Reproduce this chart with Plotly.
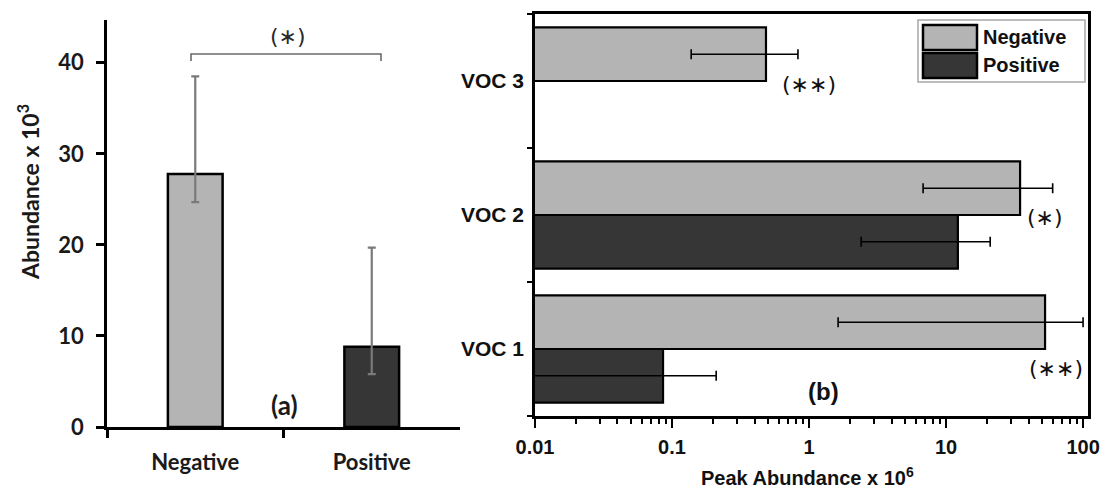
import plotly.graph_objects as go

# ---------------- data ----------------
groups_a = ["Negative", "Positive"]
abund_a = [27.8, 8.8]
abund_a_hi = [38.5, 19.7]
abund_a_lo = [24.7, 5.8]
y_ticks_a = [0, 10, 20, 30, 40]

vocs = ["VOC 1", "VOC 2", "VOC 3"]
neg_vals = [52.8, 34.7, 0.485]
neg_hi = [100.0, 60.0, 0.83]
neg_lo = [1.63, 6.8, 0.138]
pos_vals = [0.086, 12.2, None]
pos_hi = [0.21, 21.0, None]
pos_lo = [0.004, 2.4, None]

series_names = ["Negative", "Positive"]
sig_a = "(∗)"
sig_b = ["(∗∗)", "(∗)", "(∗∗)"]  # VOC1, VOC2, VOC3
panel_labels = ["(a)", "(b)"]

LIGHT = "#b4b4b4"
DARK = "#363636"
W, H = 1100, 490


def px(x):
    return x / W


def py(y):
    return 1 - y / H


def diff(a, b):
    return [None if (u is None or v is None) else u - v for u, v in zip(a, b)]


fig = go.Figure()

# ---------------- panel (a) ----------------
fig.add_trace(go.Bar(
    x=groups_a, y=abund_a, width=0.31,
    marker=dict(color=[LIGHT, DARK], line=dict(color="black", width=2.5)),
    error_y=dict(type="data", symmetric=False,
                 array=diff(abund_a_hi, abund_a),
                 arrayminus=diff(abund_a, abund_a_lo),
                 color="#7a7a7a", thickness=2.2, width=4),
    xaxis="x", yaxis="y", showlegend=False,
))

# ---------------- panel (b) ----------------
fig.add_trace(go.Bar(
    y=vocs, x=neg_vals, orientation="h", name=series_names[0],
    offset=0, width=0.4,
    marker=dict(color=LIGHT, line=dict(color="black", width=2.2)),
    error_x=dict(type="data", symmetric=False,
                 array=diff(neg_hi, neg_vals), arrayminus=diff(neg_vals, neg_lo),
                 color="black", thickness=1.6, width=5),
    xaxis="x2", yaxis="y2", showlegend=False,
))
fig.add_trace(go.Bar(
    y=vocs, x=pos_vals, orientation="h", name=series_names[1],
    offset=-0.4, width=0.4,
    marker=dict(color=DARK, line=dict(color="black", width=2.2)),
    error_x=dict(type="data", symmetric=False,
                 array=diff(pos_hi, pos_vals), arrayminus=diff(pos_vals, pos_lo),
                 color="black", thickness=1.6, width=5),
    xaxis="x2", yaxis="y2", showlegend=False,
))

LATO_B = dict(family="Lato", size=22, color="#1a1a1a", weight="bold")
ARIAL_B = dict(family="Liberation Sans", size=20, color="#111111", weight="bold")

fig.update_layout(
    template="none",
    width=W, height=H,
    margin=dict(l=0, r=0, t=0, b=0, pad=0),
    paper_bgcolor="white", plot_bgcolor="white",
    barmode="overlay",
    xaxis=dict(
        domain=[px(107), px(460)], range=[-0.5, 1.5], type="category",
        anchor="y", tickson="boundaries", ticks="outside", ticklen=8,
        tickwidth=2.5, tickcolor="black", showline=True, linewidth=2.5,
        linecolor="black", showgrid=False, zeroline=False, automargin=False,
        tickfont=LATO_B, ticklabelstandoff=14,
    ),
    yaxis=dict(
        domain=[py(427), py(20)], range=[0, 44.7], anchor="x",
        tickvals=y_ticks_a, ticks="outside", ticklen=8, tickwidth=2.5,
        tickcolor="black", showline=True, linewidth=2.5, linecolor="black",
        showgrid=False, zeroline=False, automargin=False,
        tickfont=LATO_B, ticklabelstandoff=8,
    ),
    xaxis2=dict(
        domain=[px(535), px(1088)], type="log", range=[-2, 2.036],
        anchor="y2", dtick=1, ticks="outside", ticklen=9, tickwidth=2.2,
        tickcolor="black", showline=True, mirror=True, linewidth=2.5,
        linecolor="black", showgrid=False, zeroline=False, automargin=False,
        minor=dict(ticks="outside", ticklen=5, tickwidth=2, tickcolor="black",
                   dtick="D1", showgrid=False),
        tickfont=ARIAL_B, ticklabelstandoff=2,
    ),
    yaxis2=dict(
        domain=[py(416), py(14)], type="category", categoryorder="array",
        categoryarray=vocs, range=[-0.5, 2.5], anchor="x2",
        tickson="boundaries", ticks="outside", ticklen=5, tickwidth=2,
        tickcolor="black", showline=True, mirror=True, linewidth=2.5,
        linecolor="black", showgrid=False, zeroline=False, automargin=False,
        tickfont=dict(family="Liberation Sans", size=21, color="#111111", weight="bold"),
        ticklabelstandoff=4,
    ),
)


def note(x, y, text, font, xanchor="center", **kw):
    return dict(x=px(x), y=py(y), xref="paper", yref="paper", showarrow=False,
                xanchor=xanchor, yanchor="middle", text=text, font=font, **kw)


ann = []
# axis titles
ann.append(note(28, 192, "Abundance x 10<sup>3</sup>",
                dict(family="Lato", size=23, color="#1a1a1a", weight="bold"), textangle=-90))
ann.append(note(807, 476, "Peak Abundance x 10<sup>6</sup>",
                dict(family="Liberation Sans", size=20, color="#111111", weight="bold")))
# panel labels
ann.append(note(284, 405, panel_labels[0],
                dict(family="Lato", size=26, color="#1a1a1a", weight="bold")))
ann.append(note(823, 391, panel_labels[1],
                dict(family="Liberation Sans", size=24, color="#111111", weight="bold")))
# significance marks
ann.append(note(288, 36, sig_a, dict(family="DejaVu Sans", size=22, color="#2a2a2a")))
sig_pos = [(1056, 368), (1045, 217), (809, 85)]
for s, (sx, sy) in zip(sig_b, sig_pos):
    ann.append(note(sx, sy, s, dict(family="DejaVu Sans", size=22, color="#111111")))

# custom legend text
ann.append(note(981, 37, series_names[0],
                dict(family="Liberation Sans", size=20, color="#111111", weight="bold"),
                xanchor="left"))
ann.append(note(981, 65, series_names[1],
                dict(family="Liberation Sans", size=20, color="#111111", weight="bold"),
                xanchor="left"))

shapes = []
# significance bracket on panel (a)
shapes.append(dict(type="path", xref="paper", yref="paper",
                   path=f"M {px(191)},{py(61)} L {px(191)},{py(54)} L {px(381)},{py(54)} L {px(381)},{py(61)}",
                   line=dict(color="#6a6a6a", width=1.6)))
# legend box and swatches
shapes.append(dict(type="rect", xref="paper", yref="paper",
                   x0=px(918), x1=px(1085), y0=py(82), y1=py(20),
                   line=dict(color="#a8a8a8", width=1.5), fillcolor="white"))
shapes.append(dict(type="rect", xref="paper", yref="paper",
                   x0=px(923), x1=px(977), y0=py(50), y1=py(25),
                   line=dict(color="black", width=2.5), fillcolor=LIGHT))
shapes.append(dict(type="rect", xref="paper", yref="paper",
                   x0=px(923), x1=px(977), y0=py(78), y1=py(53),
                   line=dict(color="black", width=2.5), fillcolor=DARK))

fig.update_layout(annotations=ann, shapes=shapes)

fig.write_html("out.html", config={"displayModeBar": False},
               post_script="document.body.style.margin='0';")
